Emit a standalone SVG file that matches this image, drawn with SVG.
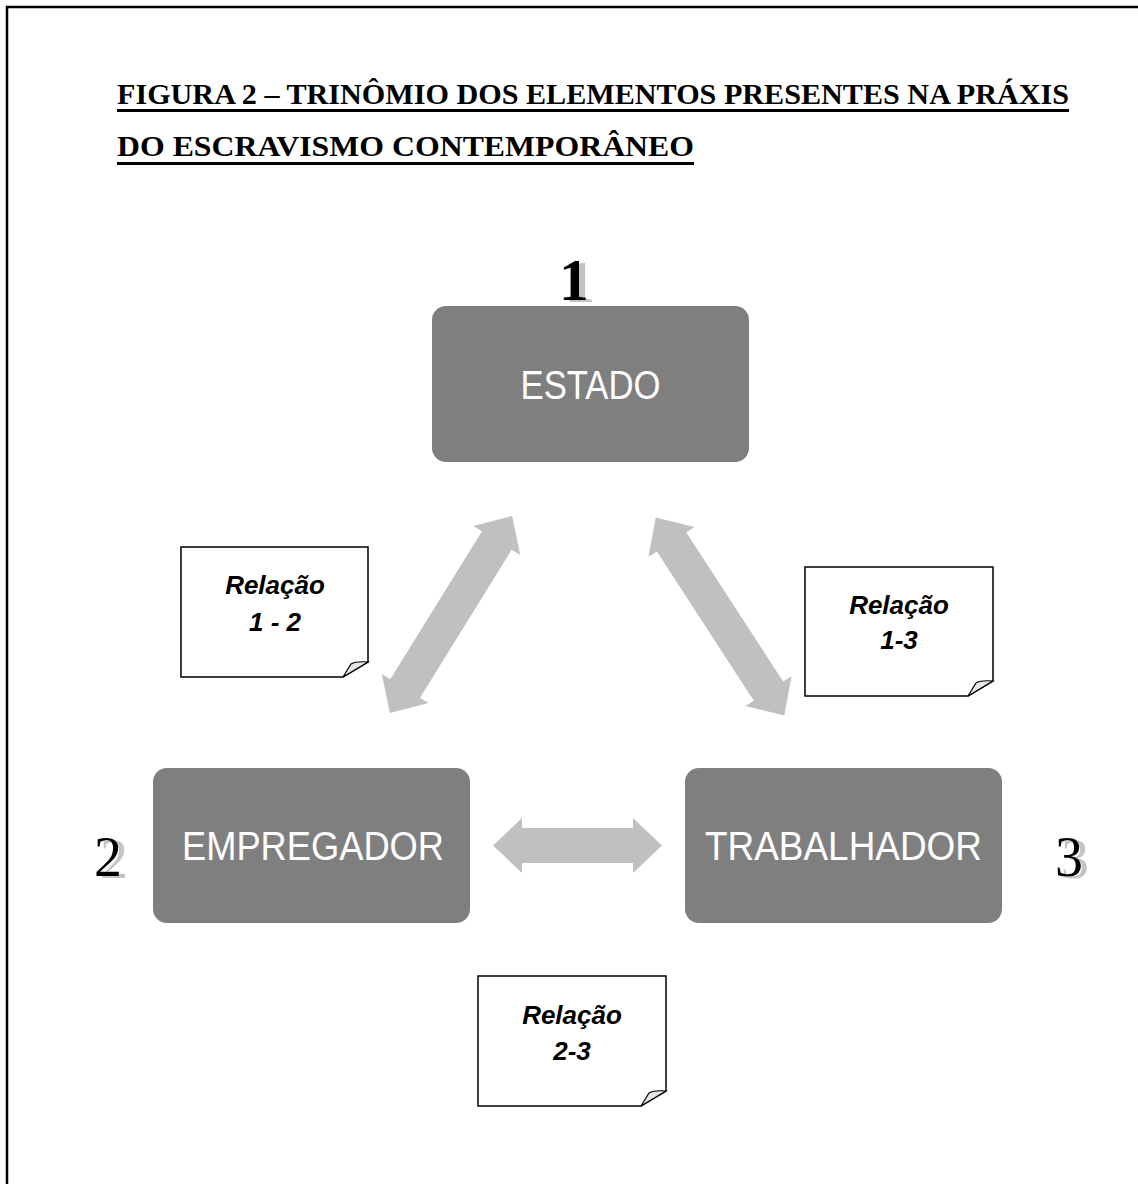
<svg xmlns="http://www.w3.org/2000/svg" width="1138" height="1184" viewBox="0 0 1138 1184">
<defs>
<style>
.title{font-family:"Liberation Serif","Times New Roman",serif;font-weight:bold;font-size:30px;fill:#000}
.box{fill:#7f7f7f}
.boxtxt{font-family:"Liberation Sans Narrow","Liberation Sans",Arial,sans-serif;font-size:40px;fill:#fff;text-anchor:middle}
.arrow{fill:#c0c0c0}
.note{fill:#fff;stroke:#000;stroke-width:1.5}
.fold{fill:#e6e6e6;stroke:#000;stroke-width:1.2}
.notetxt{font-family:"Liberation Sans",Arial,sans-serif;font-weight:bold;font-style:italic;font-size:26px;fill:#000;text-anchor:middle}
.num{font-family:"Liberation Serif","Times New Roman",serif;fill:#000;text-anchor:middle;filter:url(#shadow)}
</style>
<filter id="shadow" x="-50%" y="-50%" width="200%" height="200%">
<feOffset in="SourceAlpha" dx="6" dy="2" result="off"/>
<feFlood flood-color="#c4c4c4"/>
<feComposite in2="off" operator="in" result="sh"/>
<feMerge><feMergeNode in="sh"/><feMergeNode in="SourceGraphic"/></feMerge>
</filter>
</defs>
<rect width="1138" height="1184" fill="#fff"/>
<path d="M7,1184 V7 H1138" fill="none" stroke="#000" stroke-width="2.5"/>
<g id="title">
<text class="title" x="117" y="104" textLength="952" lengthAdjust="spacingAndGlyphs">FIGURA 2 – TRINÔMIO DOS ELEMENTOS PRESENTES NA PRÁXIS</text>
<rect x="117" y="109" width="952" height="3" fill="#000"/>
<text class="title" x="117" y="156" textLength="577" lengthAdjust="spacingAndGlyphs">DO ESCRAVISMO CONTEMPORÂNEO</text>
<rect x="117" y="162" width="577" height="3" fill="#000"/>
</g>
<g id="connectors">
<polygon class="arrow" transform="translate(577.5,845.5)" points="-84.5,0 -55.5,-27.5 -55.5,-17.5 55.5,-17.5 55.5,-27.5 84.5,0 55.5,27.5 55.5,17.5 -55.5,17.5 -55.5,27.5"/>
<polygon class="arrow" transform="translate(451,614.5) rotate(-58.2)" points="-116,0 -87,-27.5 -87,-17.5 87,-17.5 87,-27.5 116,0 87,27.5 87,17.5 -87,17.5 -87,27.5"/>
<polygon class="arrow" transform="translate(720,616.5) rotate(57)" points="-118,0 -89,-27.5 -89,-17.5 89,-17.5 89,-27.5 118,0 89,27.5 89,17.5 -89,17.5 -89,27.5"/>
</g>
<g id="estado">
<rect class="box" x="432" y="306" width="317" height="156" rx="14"/>
<text class="boxtxt" x="590.5" y="399" textLength="140" lengthAdjust="spacingAndGlyphs">ESTADO</text>
</g>
<g id="empregador">
<rect class="box" x="153" y="768" width="317" height="155" rx="14"/>
<text class="boxtxt" x="313" y="860" textLength="262" lengthAdjust="spacingAndGlyphs">EMPREGADOR</text>
</g>
<g id="trabalhador">
<rect class="box" x="685" y="768" width="317" height="155" rx="14"/>
<text class="boxtxt" x="843.5" y="860" textLength="277" lengthAdjust="spacingAndGlyphs">TRABALHADOR</text>
</g>
<g id="num1">
<text class="num" x="574" y="300" font-size="60" font-weight="bold">1</text>
</g>
<g id="num2">
<text class="num" x="108" y="876" font-size="56">2</text>
</g>
<g id="num3">
<text class="num" x="1069" y="876" font-size="56">3</text>
</g>
<g id="note12">
<path class="note" d="M181,547 H368 V662 L343,677 H181 Z"/>
<path class="fold" d="M343,677 L351,664 Q356,661 368,662 Z"/>
<text class="notetxt" x="275" y="594">Relação</text>
<text class="notetxt" x="275" y="631">1 - 2</text>
</g>
<g id="note13">
<path class="note" d="M805,567 H993 V681 L968,696 H805 Z"/>
<path class="fold" d="M968,696 L976,683 Q981,680 993,681 Z"/>
<text class="notetxt" x="899" y="614">Relação</text>
<text class="notetxt" x="899" y="649">1-3</text>
</g>
<g id="note23">
<path class="note" d="M478,976 H666 V1091 L641,1106 H478 Z"/>
<path class="fold" d="M641,1106 L649,1093 Q654,1090 666,1091 Z"/>
<text class="notetxt" x="572" y="1024">Relação</text>
<text class="notetxt" x="572" y="1060">2-3</text>
</g>
</svg>
